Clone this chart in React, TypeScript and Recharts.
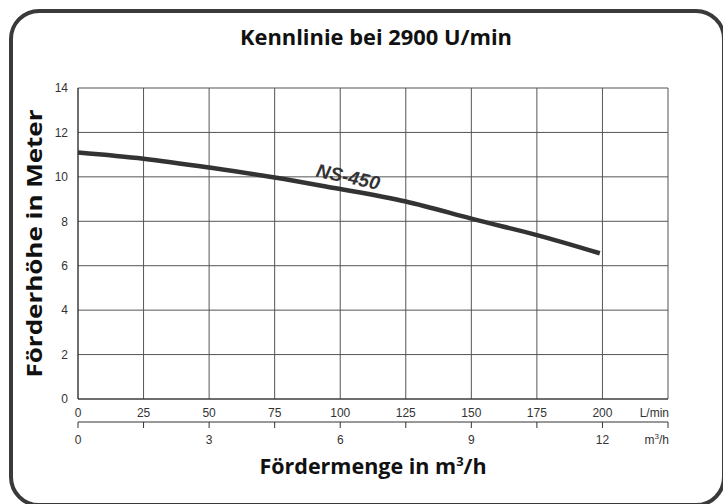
import React from "react"
import {
  LineChart,
  Line,
  XAxis,
  YAxis,
  CartesianGrid,
  ReferenceDot,
  Label
} from "recharts"

// pump curve NS-450
const flowLmin = [0, 25, 50, 75, 100, 125, 150, 175, 199]
const headM = [11.1, 10.82, 10.42, 9.97, 9.45, 8.89, 8.12, 7.38, 6.56]

const lminTicks = [0, 25, 50, 75, 100, 125, 150, 175, 200, 225]
// second scale: same positions, shown in m³/h (1 L/min = 0.06 m³/h)
const m3hLabelled = [0, 3, 6, 9, 12]
const headTicks = [0, 2, 4, 6, 8, 10, 12, 14]

const data = flowLmin.map((q, i) => ({ q, h: headM[i] }))

const axisFont = "'Liberation Sans', Arial, sans-serif"
const boldFont = "'Open Sans', 'Noto Sans', sans-serif"
const ink = "#333"

function LminTick({ x, y, payload }: any) {
  const last = payload.value === 225
  return (
    <text x={last ? x + 1 : x} y={y} dy="0.71em" textAnchor={last ? "end" : "middle"}
      fontFamily={axisFont} fontSize={12} fill={ink}>
      {last ? "L/min" : payload.value}
    </text>
  )
}

function M3hTick({ x, y, payload }: any) {
  const m3 = Math.round(payload.value * 0.06 * 10) / 10
  if (payload.value === 225) {
    return (
      <text x={x + 1} y={y} dy="0.71em" textAnchor="end" fontFamily={axisFont} fontSize={12} fill={ink}>
        m<tspan dy="-5" fontSize={8}>3</tspan><tspan dy="5">/h</tspan>
      </text>
    )
  }
  if (!m3hLabelled.includes(m3)) return null
  return (
    <text x={x} y={y} dy="0.71em" textAnchor="middle" fontFamily={axisFont} fontSize={12} fill={ink}>
      {m3}
    </text>
  )
}

function XTitle({ viewBox }: any) {
  const cx = viewBox.x + viewBox.width / 2
  return (
    <text x={cx} y={474} textAnchor="middle" fontFamily={boldFont} fontWeight={700} fontSize={21.5} fill="#111">
      Fördermenge in m<tspan dy="-8" fontSize={13}>3</tspan><tspan dy="8">/h</tspan>
    </text>
  )
}

function YTitle({ viewBox }: any) {
  const cy = viewBox.y + viewBox.height / 2
  return (
    <text x={33} y={cy} transform={`rotate(-90, 33, ${cy})`} textAnchor="middle"
      dominantBaseline="central" fontFamily={boldFont} fontWeight={700} fontSize={22} fill="#111"
      textLength={268} lengthAdjust="spacingAndGlyphs">
      Förderhöhe in Meter
    </text>
  )
}

function CurveName({ viewBox }: any) {
  const cx = viewBox.x + (viewBox.width || 0) / 2
  const cy = viewBox.y + (viewBox.height || 0) / 2
  return (
    <text x={cx} y={cy} transform={`rotate(12, ${cx}, ${cy})`} textAnchor="middle"
      dominantBaseline="central" fontFamily={axisFont} fontWeight={700} fontStyle="italic"
      fontSize={19} fill={ink}>
      NS-450
    </text>
  )
}

export default function App() {
  return (
    <div style={{ position: "absolute", left: 0, top: 0, width: 723, height: 504, overflow: "hidden", background: "#fff" }}>
      <div style={{
        position: "absolute", left: 9, top: 9, width: 717, height: 498,
        boxSizing: "border-box", border: "4px solid #3a3a3a", borderRadius: 30
      }} />
      <svg width={723} height={60} style={{ position: "absolute", left: 0, top: 0 }}>
        <text x={376} y={45} textAnchor="middle" fontFamily={boldFont} fontWeight={700}
          fontSize={22} fill="#111" textLength={272} lengthAdjust="spacingAndGlyphs">
          Kennlinie bei 2900 U/min
        </text>
      </svg>
      <div style={{ position: "absolute", left: 0, top: 0 }}>
        <LineChart width={723} height={504} data={data}
          margin={{ top: 88, right: 55, bottom: 22, left: 0 }}>
          <CartesianGrid xAxisId="lmin" stroke="#555" strokeWidth={1} />
          <XAxis xAxisId="lmin" dataKey="q" type="number" domain={[0, 225]} ticks={lminTicks}
            interval={0} height={23} tickLine={false} tickSize={0} tickMargin={9}
            axisLine={{ stroke: ink }} tick={<LminTick />} />
          <XAxis xAxisId="m3h" dataKey="q" type="number" domain={[0, 225]} allowDataOverflow ticks={lminTicks}
            interval={0} height={60} tickSize={6} tickMargin={7}
            axisLine={{ stroke: ink }} tickLine={{ stroke: ink }} tick={<M3hTick />}>
            <Label content={<XTitle />} />
          </XAxis>
          <YAxis dataKey="h" type="number" domain={[0, 14]} ticks={headTicks} interval={0}
            width={78} tickLine={false} tickSize={0} tickMargin={10}
            axisLine={{ stroke: ink }}
            tick={{ fontFamily: axisFont, fontSize: 12, fill: ink }}>
            <Label content={<YTitle />} />
          </YAxis>
          <Line xAxisId="lmin" dataKey="h" type="natural" stroke={ink} strokeWidth={4.5}
            dot={false} isAnimationActive={false} />
          <ReferenceDot xAxisId="lmin" x={103} y={10.0} r={0} fill="none" stroke="none"
            label={<CurveName />} />
        </LineChart>
      </div>
    </div>
  )
}
